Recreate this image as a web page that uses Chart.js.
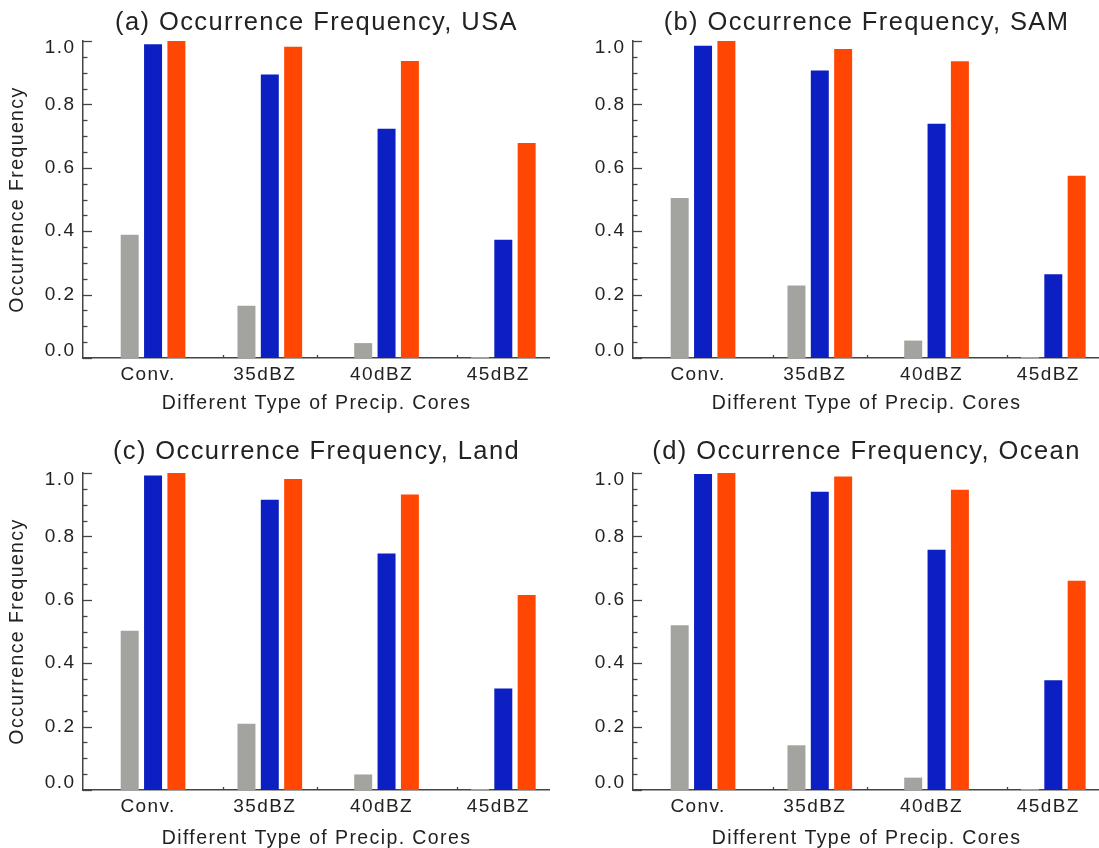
<!DOCTYPE html>
<html><head><meta charset="utf-8">
<script src="https://cdn.jsdelivr.net/npm/chart.js@4.4.1/dist/chart.umd.min.js"></script>
<style>
html,body{margin:0;padding:0;background:#fff;overflow:hidden;width:1099px;height:848px;}
canvas.panel{position:absolute;}
</style></head><body>
<canvas id="pa" class="panel" width="550" height="424" style="left:0;top:0"></canvas>
<canvas id="pb" class="panel" width="550" height="424" style="left:550px;top:0"></canvas>
<canvas id="pc" class="panel" width="550" height="424" style="left:0;top:432px"></canvas>
<canvas id="pd" class="panel" width="550" height="424" style="left:550px;top:432px"></canvas>
<script>
// ---- data ----
const categories = ['Conv.', '35dBZ', '40dBZ', '45dBZ'];

const usaGray   = [0.389, 0.165, 0.047, 0.003];
const usaBlue   = [0.990, 0.894, 0.723, 0.373];
const usaOrange = [1.000, 0.982, 0.937, 0.678];

const samGray   = [0.505, 0.229, 0.055, 0.003];
const samBlue   = [0.985, 0.907, 0.739, 0.264];
const samOrange = [1.000, 0.975, 0.936, 0.575];

const landGray   = [0.502, 0.209, 0.049, 0.003];
const landBlue   = [0.992, 0.916, 0.746, 0.320];
const landOrange = [1.000, 0.981, 0.932, 0.615];

const oceanGray   = [0.520, 0.141, 0.039, 0.003];
const oceanBlue   = [0.997, 0.941, 0.758, 0.346];
const oceanOrange = [1.000, 0.989, 0.947, 0.660];

const yMajorLabels = ['0.0', '0.2', '0.4', '0.6', '0.8', '1.0'];
const yTickValues = [];
for (let k = 0; k <= 20; k++) yTickValues.push(k / 20);
const xMinorTicks = [0.6, 1.4, 2.6];

// ---- styles ----
const FONT = '"Liberation Sans", Arial, Helvetica, sans-serif';
const TEXT = '#222';
const AXIS = '#444';
const GRAY = '#a3a3a0';
const BLUE = '#0b1fc2';
const ORANGE = '#ff4602';

const axisTicks = {
  id: 'axisTicks',
  beforeLayout(chart) { chart.ctx.letterSpacing = '1.4px'; },
  beforeDraw(chart) { chart.ctx.letterSpacing = '1.4px'; },
  afterDraw(chart) {
    const {ctx, chartArea, scales: {x, y}} = chart;
    ctx.save();
    ctx.strokeStyle = AXIS;
    ctx.lineWidth = 1.3;
    y.ticks.forEach(t => {
      const py = Math.round(y.getPixelForValue(t.value)) + 0.5;
      const major = Math.round(t.value * 20) % 4 === 0;
      const len = major ? 9 : 4.5;
      ctx.beginPath();
      ctx.moveTo(chartArea.left, py);
      ctx.lineTo(chartArea.left + len, py);
      ctx.stroke();
    });
    xMinorTicks.forEach(v => {
      const px = Math.round(x.getPixelForValue(v)) + 0.5;
      ctx.beginPath();
      ctx.moveTo(px, chartArea.bottom);
      ctx.lineTo(px, chartArea.bottom - 3);
      ctx.stroke();
    });
    ctx.restore();
  }
};

function makeChart(id, title, gray, blue, orange, o) {
  const toXY = arr => arr.map((v, i) => ({x: i, y: v}));
  new Chart(document.getElementById(id), {
    type: 'bar',
    data: {
      datasets: [
        {data: toXY(gray), backgroundColor: GRAY},
        {data: toXY(blue), backgroundColor: BLUE},
        {data: toXY(orange), backgroundColor: ORANGE}
      ]
    },
    options: {
      responsive: false,
      animation: false,
      devicePixelRatio: 1,
      datasets: {bar: {categoryPercentage: 0.6, barPercentage: 0.77}},
      layout: {padding: {left: 0, right: 0, top: 0, bottom: 0}},
      plugins: {
        legend: {display: false},
        tooltip: {enabled: false},
        title: {
          display: true, text: title, fullSize: false, color: TEXT,
          font: {family: FONT, size: 25.5, weight: 'normal', lineHeight: 1.2},
          padding: {top: o.titleTop, bottom: o.titleBottom}
        }
      },
      scales: {
        x: {
          type: 'linear', min: -0.6, max: 3.4, offset: false,
          grid: {display: false, drawTicks: false, offset: false},
          border: {display: true, color: AXIS, width: 1.5},
          afterBuildTicks: s => { s.ticks = categories.map((c, i) => ({value: i})); },
          ticks: {
            autoSkip: false, maxRotation: 0, padding: 5.6, labelOffset: -5, color: TEXT,
            font: {family: FONT, size: 19, lineHeight: 1.2},
            callback: v => categories[v]
          },
          title: {
            display: true, text: 'Different Type of Precip. Cores', color: TEXT,
            font: {family: FONT, size: 19.5, lineHeight: 1.2},
            padding: {top: 0, bottom: o.xTitleBottom}
          },
          afterFit: s => { s.height = 66; }
        },
        y: {
          min: 0, max: 1,
          grid: {display: false, drawTicks: false},
          border: {display: true, color: AXIS, width: 1.5},
          afterBuildTicks: s => { s.ticks = yTickValues.map(v => ({value: v})); },
          ticks: {
            autoSkip: false, padding: 7.6, color: TEXT,
            font: {family: FONT, size: 19, lineHeight: 0.737},
            callback: v => {
              const k = Math.round(v * 20);
              if (k % 4 !== 0) return '';
              const lab = yMajorLabels[k / 4];
              if (k === 20) return ['', lab];
              if (k === 0) return [lab, ''];
              return lab;
            }
          },
          title: {
            display: o.showY, text: 'Occurrence Frequency', color: TEXT,
            font: {family: FONT, size: 19.5, lineHeight: 1.2},
            padding: {top: 5.5, bottom: 0}
          },
          afterFit: s => { s.width = 83; }
        }
      }
    },
    plugins: [axisTicks]
  });
}

const topOpts = {titleTop: 7.6, titleBottom: 2.8, xTitleBottom: 8.3};
const botOpts = {titleTop: 4.2, titleBottom: 6.2, xTitleBottom: 5.3};

makeChart('pa', '(a) Occurrence Frequency, USA', usaGray, usaBlue, usaOrange, Object.assign({showY: true}, topOpts));
makeChart('pb', '(b) Occurrence Frequency, SAM', samGray, samBlue, samOrange, Object.assign({showY: false}, topOpts));
makeChart('pc', '(c) Occurrence Frequency, Land', landGray, landBlue, landOrange, Object.assign({showY: true}, botOpts));
makeChart('pd', '(d) Occurrence Frequency, Ocean', oceanGray, oceanBlue, oceanOrange, Object.assign({showY: false}, botOpts));
</script>
</body></html>
